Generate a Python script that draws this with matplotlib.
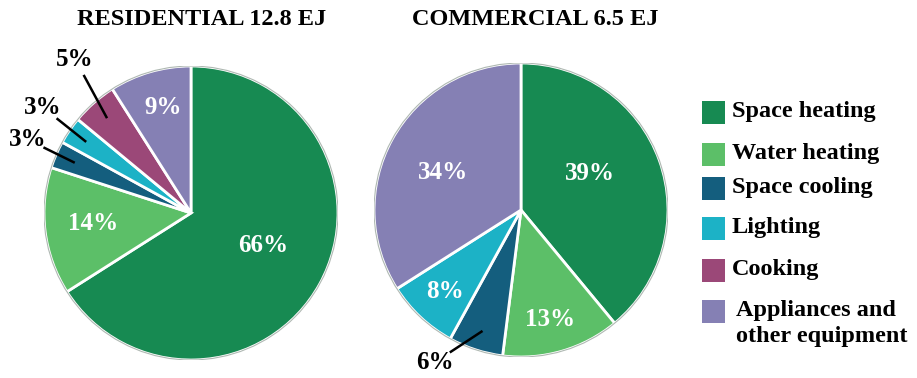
import numpy as np
import matplotlib
matplotlib.use("Agg")
import matplotlib.pyplot as plt
from matplotlib.patches import Rectangle

# end uses, shared by both pies
categories = ["Space heating", "Water heating", "Space cooling",
              "Lighting", "Cooking", "Appliances and\nother equipment"]
residential = [66, 14, 3, 3, 5, 9]
commercial = [39, 13, 6, 8, 0, 34]
titles = ["RESIDENTIAL 12.8 EJ", "COMMERCIAL 6.5 EJ"]

colors = ["#178a52", "#5cbf68", "#145e7e", "#1cb2c6", "#9b4878", "#8580b4"]

# label placement per wedge: (radius, angle nudge in deg, outside with leader?)
res_layout = [(0.54, 4.6, False), (0.67, -1.2, False), (1.22, -0.8, True),
              (1.24, -1.3, True), (1.31, -4.4, True), (0.74, -1.4, False)]
com_layout = [(0.53, 8.2, False), (0.77, -1.1, False), (1.19, -11.5, True),
              (0.76, 0.3, False), None, (0.59, 3.5, False)]

W, H = 917, 378
fig = plt.figure(figsize=(W / 100, H / 100), dpi=100)
serif = "Liberation Serif"
FS = 17.5


def draw_pie(center, radius, values, layout, title, title_x):
    cx, cy = center
    ax = fig.add_axes([(cx - radius) / W, (H - cy - radius) / H,
                       2 * radius / W, 2 * radius / H])
    keep = [i for i, v in enumerate(values) if v > 0]
    vals = [values[i] for i in keep]
    ax.pie(vals, colors=[colors[i] for i in keep], startangle=90,
           counterclock=False, radius=1.0,
           wedgeprops=dict(edgecolor="white", linewidth=2))
    ax.add_artist(plt.Circle((0, 0), 1.0, fill=False, edgecolor="#7a8a80",
                             linewidth=0.8, alpha=0.6))
    ax.set_xlim(-1, 1)
    ax.set_ylim(-1, 1)
    ax.set_aspect("auto")
    ax.axis("off")

    start = 90.0
    for i, v in zip(keep, vals):
        span = 360.0 * v / sum(vals)
        mid = start - span / 2
        start -= span
        r, nudge, outside = layout[i]
        a = np.radians(mid + nudge)
        lx, ly = r * np.cos(a), r * np.sin(a)
        ax.text(lx, ly, f"{v}%", ha="center", va="center",
                fontsize=FS + 0.5, fontweight="bold", family=serif,
                color="black" if outside else "white")
        if outside:
            ex, ey = 0.87 * np.cos(np.radians(mid)), 0.87 * np.sin(np.radians(mid))
            d = np.array([ex - lx, ey - ly])
            d /= np.hypot(*d)
            sx, sy = lx + 0.13 * d[0], ly + 0.13 * d[1]
            ax.plot([sx, ex], [sy, ey], color="black", linewidth=1.8,
                    clip_on=False)

    fig.text(title_x / W, 1 - 19.5 / H, title, ha="center", va="center",
             fontsize=FS, fontweight="bold", family=serif)


draw_pie((191, 213), 147, residential, res_layout, titles[0], 202)
draw_pie((521, 210), 147, commercial, com_layout, titles[1], 535)

# legend
row_y = [112, 154, 188, 228, 270, 311]
for name, c, y in zip(categories, colors, row_y):
    fig.add_artist(Rectangle(((702) / W, 1 - (y + 11.5) / H), 23 / W, 23 / H,
                             transform=fig.transFigure, facecolor=c,
                             edgecolor="none"))
    if "\n" in name:
        fig.text(736 / W, 1 - (y - 11) / H, name, ha="left", va="top",
                 fontsize=FS, fontweight="bold", family=serif, linespacing=1.3)
    else:
        fig.text(732 / W, 1 - y / H, name, ha="left", va="center",
                 fontsize=FS, fontweight="bold", family=serif)

fig.savefig("out.png", dpi=100)
